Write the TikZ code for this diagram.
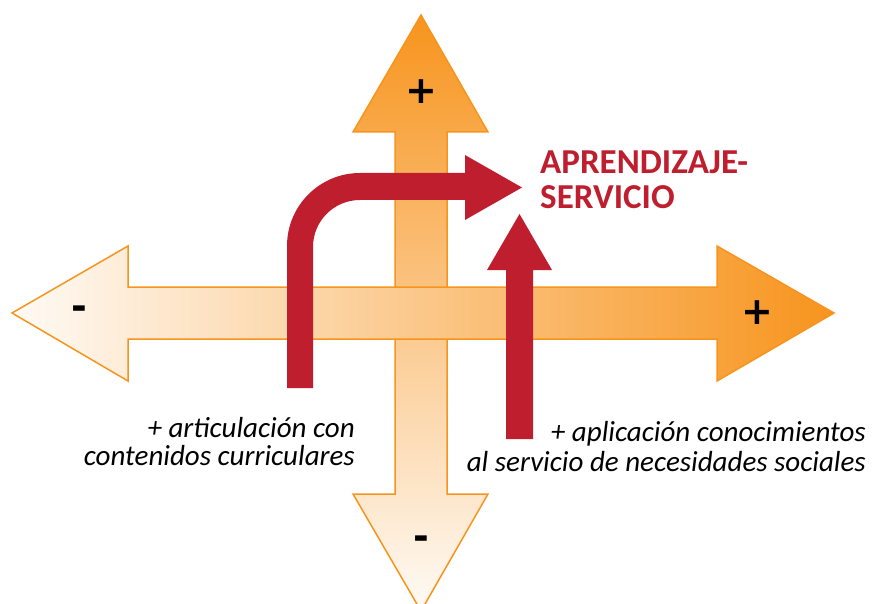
\documentclass[tikz,border=0pt]{standalone}
\usepackage{fontspec}
\setmainfont{Carlito}
\newfontfamily\symfont{DejaVu Sans}
\definecolor{orng}{HTML}{F7941D}
\definecolor{redA}{HTML}{BE1E2D}
\tikzset{
  bigarrow/.style={draw=orng, line width=1.5pt, line join=miter},
  redarrow/.style={fill=redA, draw=none},
  sign/.style={font=\symfont\bfseries\fontsize{38}{38}\selectfont, inner sep=0pt, text=black},
  caption/.style={inner sep=0pt, text=black, anchor=base east, align=right},
}
\begin{document}
\begin{tikzpicture}[x=1pt,y=-1pt]
\useasboundingbox (0,0) rectangle (878,604);
\clip (0,0) rectangle (878,604);
% vertical double arrow
\draw[bigarrow, top color=orng, bottom color=orng!4!white]
 (421,15) -- (488,132) -- (447,132) -- (447,494) -- (488,494) -- (421,611)
 -- (353,494) -- (395,494) -- (395,132) -- (353,132) -- cycle;
% horizontal double arrow
\draw[bigarrow, left color=orng!4!white, right color=orng]
 (12,313) -- (128,246) -- (128,287) -- (717,287) -- (717,246) -- (834,313)
 -- (717,381) -- (717,339) -- (128,339) -- (128,381) -- cycle;
% signs
\node[sign] (up) at (421,92) {+};
\node[sign] (right) at (757,313) {+};
\node[sign] (left) at (79,313) {-};
\node[sign] (down) at (421,543) {-};
% bent red arrow
\fill[redarrow] (287,388) -- (287,246)
  .. controls (287,205.7) and (319.7,173) .. (360,173)
  -- (465,173) -- (465,155) -- (522,187.5) -- (465,220) -- (465,200)
  -- (360,200) .. controls (334,200) and (313,221) .. (313,247)
  -- (313,388) -- cycle;
% straight red arrow
\fill[redarrow] (506,439) -- (506,270) -- (487,270) -- (519.5,214) -- (552,270)
  -- (533,270) -- (533,439) -- cycle;
% texts
\node[anchor=base west, align=left, inner sep=0pt, text=redA,
  font=\bfseries\fontsize{35}{35}\selectfont] (ap) at (540,208) {APRENDIZAJE-\\SERVICIO};
\node[caption, font=\itshape\fontsize{29}{28}\selectfont] (lt) at (355,465)
  {+ articulación con\\contenidos curriculares};
\node[caption, font=\itshape\fontsize{29}{30}\selectfont] (rt) at (866,471)
  {+ aplicación conocimientos\\al servicio de necesidades sociales};
\end{tikzpicture}
\end{document}
